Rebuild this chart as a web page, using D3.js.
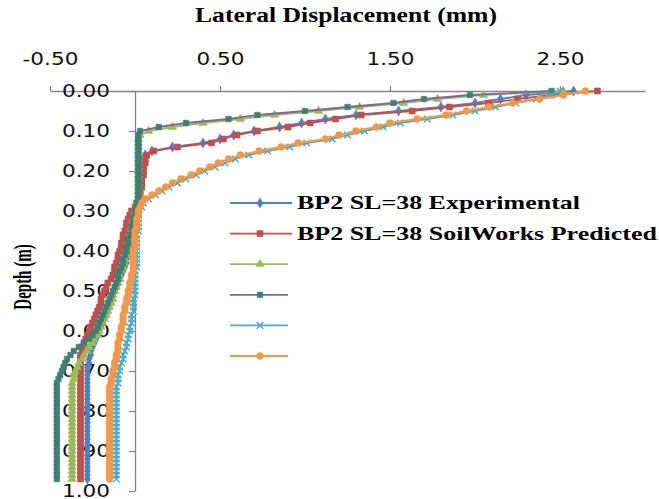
<!DOCTYPE html>
<html>
<head>
<meta charset="utf-8">
<script src="https://cdn.jsdelivr.net/npm/d3@7"></script>
<style>
  body { margin: 0; background: #fff; }
  svg { display: block; }
</style>
</head>
<body>
<svg width="659" height="499"></svg>
<script>
// depth levels (m), shared by all series
const DEPTHS = [
  0.00, 0.01, 0.02, 0.03, 0.04, 0.05, 0.06, 0.07, 0.08, 0.09,
  0.10, 0.11, 0.12, 0.13, 0.14, 0.15, 0.16, 0.17, 0.18, 0.19,
  0.20, 0.21, 0.22, 0.23, 0.24, 0.25, 0.26, 0.27, 0.28, 0.29,
  0.30, 0.31, 0.32, 0.33, 0.34, 0.35, 0.36, 0.37, 0.38, 0.39,
  0.40, 0.41, 0.42, 0.43, 0.44, 0.45, 0.46, 0.47, 0.48, 0.49,
  0.50, 0.51, 0.52, 0.53, 0.54, 0.55, 0.56, 0.57, 0.58, 0.59,
  0.60, 0.61, 0.62, 0.63, 0.64, 0.65, 0.66, 0.67, 0.68, 0.69,
  0.70, 0.71, 0.72, 0.73, 0.74, 0.75, 0.76, 0.77, 0.78, 0.79,
  0.80, 0.81, 0.82, 0.83, 0.84, 0.85, 0.86, 0.87, 0.88, 0.89,
  0.90, 0.91, 0.92, 0.93, 0.94, 0.95, 0.96, 0.97
]

// lateral displacement (mm) at each depth
const bp2Experimental = [
  2.58, 2.30, 2.15, 2.00, 1.80, 1.55, 1.30, 1.12, 0.98, 0.85,
  0.70, 0.58, 0.50, 0.40, 0.22, 0.10, 0.06, 0.05, 0.05, 0.05,
  0.04, 0.04, 0.04, 0.04, 0.03, 0.03, 0.03, 0.03, 0.02, 0.02,
  0.01, 0.01, 0.00, 0.00, -0.01, -0.01, -0.02, -0.02, -0.03, -0.03,
  -0.04, -0.04, -0.05, -0.05, -0.06, -0.07, -0.08, -0.09, -0.10, -0.11,
  -0.12, -0.13, -0.14, -0.15, -0.15, -0.16, -0.17, -0.18, -0.19, -0.20,
  -0.21, -0.22, -0.23, -0.24, -0.25, -0.26, -0.26, -0.27, -0.27, -0.28,
  -0.28, -0.28, -0.28, -0.28, -0.28, -0.28, -0.28, -0.28, -0.28, -0.28,
  -0.28, -0.28, -0.28, -0.28, -0.28, -0.28, -0.28, -0.28, -0.28, -0.28,
  -0.28, -0.28, -0.28, -0.28, -0.28, -0.28, -0.28, -0.28
]

const bp2Predicted = [
  2.72, 2.45, 2.25, 2.08, 1.85, 1.63, 1.33, 1.18, 1.03, 0.90,
  0.72, 0.60, 0.52, 0.45, 0.25, 0.11, 0.07, 0.06, 0.06, 0.05,
  0.05, 0.05, 0.04, 0.04, 0.04, 0.03, 0.03, 0.02, 0.01, 0.00,
  -0.02, -0.03, -0.04, -0.05, -0.05, -0.06, -0.07, -0.07, -0.08, -0.08,
  -0.09, -0.10, -0.10, -0.11, -0.12, -0.12, -0.13, -0.14, -0.16, -0.17,
  -0.18, -0.19, -0.20, -0.20, -0.21, -0.22, -0.23, -0.24, -0.25, -0.26,
  -0.27, -0.28, -0.29, -0.30, -0.31, -0.31, -0.32, -0.32, -0.32, -0.32,
  -0.32, -0.32, -0.32, -0.32, -0.32, -0.32, -0.32, -0.32, -0.32, -0.32,
  -0.32, -0.32, -0.32, -0.32, -0.32, -0.32, -0.32, -0.32, -0.32, -0.32,
  -0.32, -0.32, -0.32, -0.32, -0.32, -0.32, -0.32, -0.32
]

const series3 = [
  2.52, 2.05, 1.78, 1.58, 1.32, 1.08, 0.82, 0.62, 0.40, 0.22,
  0.08, 0.03, 0.02, 0.02, 0.02, 0.02, 0.02, 0.02, 0.02, 0.02,
  0.02, 0.02, 0.02, 0.02, 0.02, 0.02, 0.02, 0.02, 0.01, 0.01,
  0.00, 0.00, -0.01, -0.01, -0.02, -0.02, -0.03, -0.03, -0.04, -0.04,
  -0.05, -0.05, -0.06, -0.06, -0.07, -0.08, -0.09, -0.09, -0.10, -0.11,
  -0.12, -0.13, -0.13, -0.14, -0.15, -0.16, -0.17, -0.18, -0.19, -0.20,
  -0.21, -0.22, -0.24, -0.25, -0.27, -0.28, -0.30, -0.31, -0.33, -0.34,
  -0.35, -0.36, -0.36, -0.37, -0.37, -0.37, -0.37, -0.37, -0.37, -0.37,
  -0.37, -0.37, -0.37, -0.37, -0.37, -0.37, -0.37, -0.37, -0.37, -0.37,
  -0.37, -0.37, -0.37, -0.37, -0.37, -0.37, -0.37, -0.37
]

const series4 = [
  2.45, 1.97, 1.70, 1.52, 1.25, 1.00, 0.72, 0.55, 0.30, 0.14,
  0.03, 0.02, 0.02, 0.02, 0.02, 0.02, 0.02, 0.02, 0.02, 0.02,
  0.02, 0.02, 0.02, 0.02, 0.02, 0.02, 0.02, 0.02, 0.01, 0.01,
  0.00, 0.00, -0.01, -0.01, -0.02, -0.02, -0.03, -0.04, -0.04, -0.05,
  -0.05, -0.06, -0.07, -0.07, -0.08, -0.09, -0.10, -0.10, -0.11, -0.12,
  -0.13, -0.14, -0.15, -0.16, -0.17, -0.18, -0.19, -0.20, -0.21, -0.22,
  -0.23, -0.25, -0.27, -0.30, -0.33, -0.36, -0.38, -0.40, -0.41, -0.42,
  -0.43, -0.44, -0.45, -0.46, -0.46, -0.46, -0.46, -0.46, -0.46, -0.46,
  -0.46, -0.46, -0.46, -0.46, -0.46, -0.46, -0.46, -0.46, -0.46, -0.46,
  -0.46, -0.46, -0.46, -0.46, -0.46, -0.46, -0.46, -0.46
]

const series5 = [
  2.50, 2.45, 2.36, 2.24, 2.12, 2.00, 1.87, 1.72, 1.56, 1.46,
  1.35, 1.25, 1.16, 1.01, 0.91, 0.78, 0.67, 0.59, 0.53, 0.47,
  0.41, 0.36, 0.30, 0.25, 0.20, 0.16, 0.12, 0.08, 0.05, 0.04,
  0.02, 0.02, 0.02, 0.02, 0.02, 0.02, 0.01, 0.01, 0.01, 0.01,
  0.01, 0.01, 0.01, 0.01, 0.01, 0.00, 0.00, 0.00, 0.00, 0.00,
  0.00, 0.00, -0.01, -0.01, -0.01, -0.01, -0.02, -0.02, -0.02, -0.03,
  -0.03, -0.04, -0.04, -0.05, -0.05, -0.06, -0.07, -0.07, -0.08, -0.09,
  -0.09, -0.10, -0.10, -0.10, -0.11, -0.11, -0.11, -0.11, -0.11, -0.11,
  -0.11, -0.11, -0.11, -0.11, -0.11, -0.11, -0.11, -0.11, -0.11, -0.11,
  -0.11, -0.11, -0.11, -0.11, -0.11, -0.11, -0.11, -0.11
]

const series6 = [
  2.65, 2.52, 2.38, 2.22, 2.08, 1.95, 1.83, 1.66, 1.50, 1.42,
  1.30, 1.20, 1.12, 0.96, 0.86, 0.73, 0.62, 0.55, 0.49, 0.44,
  0.38, 0.33, 0.27, 0.22, 0.18, 0.14, 0.10, 0.06, 0.04, 0.03,
  0.02, 0.02, 0.01, 0.01, 0.01, 0.00, 0.00, 0.00, 0.00, 0.00,
  -0.01, -0.01, -0.01, -0.01, -0.01, -0.01, -0.02, -0.02, -0.03, -0.03,
  -0.04, -0.04, -0.05, -0.05, -0.06, -0.06, -0.07, -0.07, -0.07, -0.08,
  -0.08, -0.09, -0.09, -0.10, -0.10, -0.10, -0.11, -0.11, -0.12, -0.12,
  -0.13, -0.13, -0.14, -0.14, -0.15, -0.15, -0.15, -0.15, -0.15, -0.15,
  -0.15, -0.15, -0.15, -0.15, -0.15, -0.15, -0.15, -0.15, -0.15, -0.15,
  -0.15, -0.15, -0.15, -0.15, -0.15, -0.15, -0.15, -0.15
]

const seriesNames = ['BP2 SL=38 Experimental', 'BP2 SL=38 SoilWorks Predicted', '', '', '', '']
const xTicks = [-0.5, 0.5, 1.5, 2.5]
const yTicks = [0, 0.1, 0.2, 0.3, 0.4, 0.5, 0.6, 0.7, 0.8, 0.9, 1.0]

const allValues = [bp2Experimental, bp2Predicted, series3, series4, series5, series6]
const lineColors = ['#4F81BD', '#C0504D', '#9BBB59', '#8064A2', '#4BACC6', '#F79646']
const markerColors = ['#4F81BD', '#C0504D', '#9BBB59', '#3F7F74', '#4BACC6', '#F79646']
const markerTypes = [d3.symbolDiamond, d3.symbolSquare, d3.symbolTriangle, d3.symbolSquare, d3.symbolX, d3.symbolCircle]
const markerSizes = [30, 36, 30, 30, 30, 36]

const series = allValues.map((vals, i) => ({
  name: seriesNames[i],
  points: vals.map((v, j) => [DEPTHS[j], v]),
  i: i
}))

const svg = d3.select('svg')
const AXIS = '#868686'

const x = d3.scaleLinear().domain([-0.5, 3.0]).range([50, 645])
const y = d3.scaleLinear().domain([0, 1]).range([91, 491])

// the source picture is squeezed wide, so stretch text to match
const stretch = (sel, k) => sel.each(function () {
  const w = this.getComputedTextLength()
  d3.select(this).attr('textLength', w * k).attr('lengthAdjust', 'spacingAndGlyphs')
})
const fixWidth = (sel, w) => sel.attr('textLength', w).attr('lengthAdjust', 'spacingAndGlyphs')

// axes
const xAxis = svg.append('g')
  .attr('transform', `translate(0,${y(0)})`)
  .call(d3.axisTop(x).tickValues(xTicks).tickSize(5).tickSizeOuter(0).tickPadding(21)
    .tickFormat(d => d.toFixed(2)))

const yAxis = svg.append('g')
  .attr('transform', `translate(${x(0)},0)`)
  .call(d3.axisLeft(y).tickValues(yTicks).tickSize(6).tickSizeOuter(0).tickPadding(19)
    .tickFormat(d => d.toFixed(2)))

for (const ax of [xAxis, yAxis]) {
  ax.select('.domain').attr('stroke', AXIS).attr('stroke-width', 1.3)
  ax.selectAll('.tick line').attr('stroke', AXIS).attr('stroke-width', 1.3)
  ax.selectAll('.tick text')
    .attr('fill', '#111')
    .style('font-family', '"DejaVu Sans", Verdana, sans-serif')
    .style('font-size', '17px')
    .call(stretch, 1.27)
}

// series
const line = d3.line().x(d => x(d[1])).y(d => y(d[0]))

const gSeries = svg.append('g')
  .selectAll('g.series')
  .data(series)
  .enter()
  .append('g')
  .attr('class', 'series')

gSeries.append('path')
  .attr('d', d => line(d.points))
  .attr('fill', 'none')
  .attr('stroke', d => lineColors[d.i])
  .attr('stroke-width', 1.8)

const drawMarker = (sel, i) => {
  const stroked = markerTypes[i] === d3.symbolX
  sel.attr('d', d3.symbol().type(markerTypes[i]).size(markerSizes[i]))
    .attr('fill', stroked ? 'none' : markerColors[i])
    .attr('stroke', markerColors[i])
    .attr('stroke-width', stroked ? 1.5 : 0.6)
}

gSeries.each(function (s) {
  d3.select(this).selectAll('path.mark')
    .data(s.points)
    .enter()
    .append('path')
    .attr('class', 'mark')
    .attr('transform', d => `translate(${x(d[1])},${y(d[0])})`)
    .call(drawMarker, s.i)
})

// titles
svg.append('text')
  .attr('x', 346)
  .attr('y', 22)
  .attr('text-anchor', 'middle')
  .style('font-family', '"Liberation Serif", "Times New Roman", serif')
  .style('font-weight', 'bold')
  .style('font-size', '20px')
  .text('Lateral Displacement (mm)')
  .call(fixWidth, 302)

// rotated axis title, squeezed along its length like the source
svg.append('text')
  .attr('transform', 'translate(31,277) rotate(-90) scale(0.6,1)')
  .attr('text-anchor', 'middle')
  .style('font-family', '"Liberation Serif", "Times New Roman", serif')
  .style('font-weight', 'bold')
  .style('font-size', '25px')
  .text('Depth (m)')

// legend
const legend = svg.append('g')
  .selectAll('g.entry')
  .data(series)
  .enter()
  .append('g')
  .attr('class', 'entry')
  .attr('transform', (d, i) => `translate(230,${203 + i * 30.6})`)

legend.append('line')
  .attr('x1', 0)
  .attr('x2', d => d.name ? 62 : 58)
  .attr('stroke', d => lineColors[d.i])
  .attr('stroke-width', 1.8)

legend.each(function (s) {
  d3.select(this).append('path')
    .attr('transform', `translate(30,0)`)
    .call(drawMarker, s.i)
})

const legendWidths = [283, 360]
legend.filter(d => d.name)
  .append('text')
  .attr('x', 67)
  .attr('y', 6)
  .style('font-family', '"Liberation Serif", "Times New Roman", serif')
  .style('font-weight', 'bold')
  .style('font-size', '19px')
  .text(d => d.name)
  .each(function (d) { d3.select(this).call(fixWidth, legendWidths[d.i]) })
</script>
</body>
</html>
